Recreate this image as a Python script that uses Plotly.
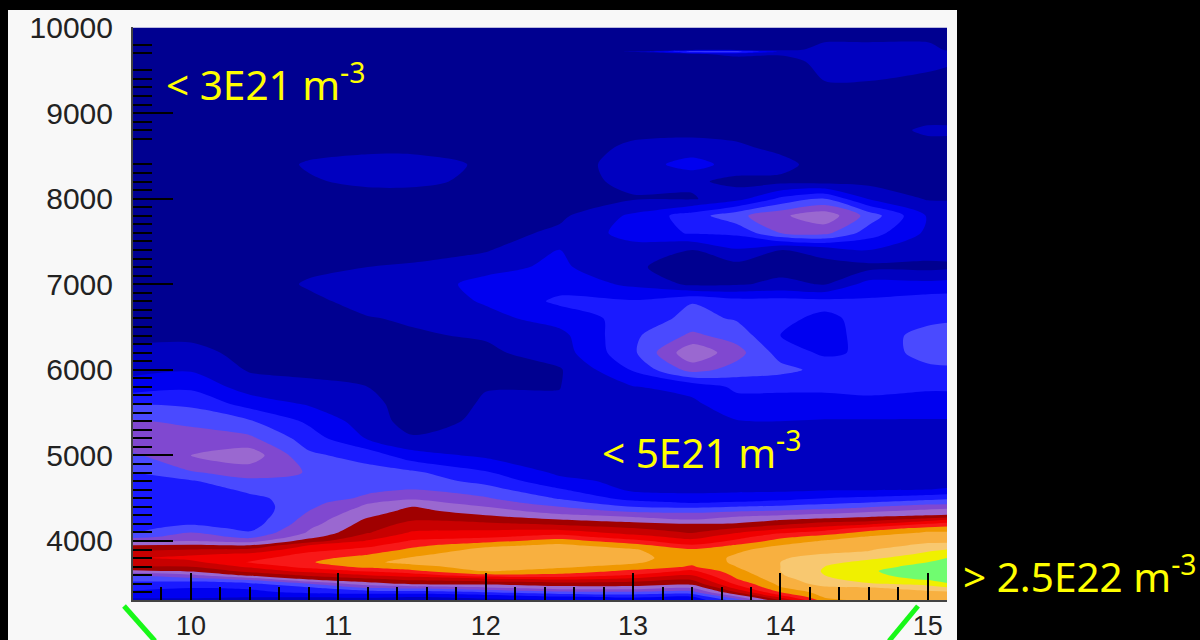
import plotly.graph_objects as go

# Axis positions of the grid (x in axis units, y in axis units)
x_vals = [9.607, 10.0, 10.4, 10.8, 11.2, 11.5, 12.0, 12.5, 13.0, 13.4, 13.7, 14.0, 14.3, 14.6, 15.0, 15.13]
y_a = [3310, 3350, 3400, 3450, 3500, 3550, 3600, 3650, 3700, 3750, 3800, 3850, 3900, 3950]
y_b = [4000, 4050, 4100, 4150, 4200, 4250, 4300, 4350, 4400, 4450, 4500, 4600, 4700, 4800]
y_c = [5000, 5200, 5400, 5600, 5800, 6000, 6200, 6400, 6600, 6800, 7000, 7200, 7400, 7600]
y_d = [7800, 8000, 8200, 8400, 8600, 8800, 9000, 9300, 9600, 9690, 9717, 9740, 9800, 10000]

# Band index, one list per x position
c00 = [1.8,2.2,2.8,3.3,3.7,4.3,5.0,6.8,8.0,8.6,8.9,8.4,7.8,7.0,
       5.8,4.6,3.9,3.7,3.4,3.3,3.3,3.2,3.2,3.2,3.2,3.2,3.5,4.0,
       4.8,6.1,5.1,4.0,2.5,1.7,1.2,0.8,0.6,0.5,0.5,0.5,0.5,0.5,
       .5,.5,.5,.5,.5,.5,.5,.5,.5,.5,.5,.5,.5,.4]
c01 = [1.5,2.5,2.8,3.0,3.5,4.5,5.8,7.2,8.0,8.7,9.3,8.8,8.0,7.1,
       6.0,5.5,5.0,4.4,3.9,3.6,3.5,3.5,3.4,3.4,3.4,3.5,3.9,4.9,
       6.0,5.4,4.8,3.8,2.8,1.9,1.3,.8,.6,.5,.5,.5,.5,.5,
       .5,.5,.5,.5,.5,.5,.5,.5,.5,.5,.5,.5,.5,.4]
c02 = [1.3,2.2,2.8,3.1,3.8,5.2,7.3,8.3,9.2,10.1,9.6,9.1,8.2,7.0,
       5.6,4.7,4.1,3.7,3.5,3.4,3.3,3.3,3.4,3.6,3.8,4.2,4.8,5.4,
       6.6,5.2,4.1,2.6,1.5,.9,.7,.6,.6,.5,.5,.5,.5,.5,
       .5,.5,.5,.5,.5,.5,.5,.5,.5,.5,.5,.5,.5,.4]
c03 = [1.2,2.2,3.2,3.8,5.0,7.0,8.2,9.4,10.4,10.9,10.7,10.2,9.6,9.0,
       7.5,6.6,6.1,5.9,5.6,5.4,5.2,5.0,4.8,4.6,4.4,4.3,4.5,4.95,
       4.2,3.5,2.8,1.9,1.2,.8,.7,.6,.6,.8,1.1,.8,.5,.45,
       .4,.5,.9,1.1,.7,.45,.4,.4,.4,.4,.4,.4,.4,.4]
c04 = [1.5,2.3,3.4,5.0,6.6,7.7,9.0,10.2,11.3,11.8,11.4,10.9,10.3,9.7,
       9.1,8.5,7.9,7.6,7.4,7.15,6.8,6.5,6.2,5.9,5.2,4.8,4.6,4.4,
       3.6,1.9,1.5,1.2,1.0,.8,.7,.7,.95,1.3,1.5,1.0,.7,.5,
       .4,.6,1.2,1.3,.8,.45,.4,.4,.4,.4,.4,.4,.4,.4]
c05 = [1.2,2.1,3.5,5.2,7.2,8.2,9.5,10.8,11.7,12.3,12.1,11.7,11.2,10.7,
       10.1,9.6,9.1,8.7,8.3,7.9,7.6,7.3,7.0,6.4,5.8,5.0,4.5,4.2,
       2.4,1.1,.6,.7,.7,.7,.7,.9,1.1,1.4,1.5,1.1,.7,.5,
       .45,.6,1.2,1.3,.8,.4,.4,.4,.4,.4,.4,.4,.4,.4]
c06 = [1.7,2.4,4.0,5.8,7.3,8.6,10.7,12.1,12.4,12.6,12.7,12.6,12.3,11.7,
       10.6,9.8,9.3,8.7,8.2,7.6,7.0,6.5,6.0,5.5,5.1,4.4,3.7,3.1,
       1.8,1.3,1.2,1.05,.98,.7,.8,1.1,1.7,2.1,2.3,1.7,.9,.6,
       .45,.5,.8,.9,.5,.4,.4,.4,.4,.4,.4,.4,.4,.4]
c07 = [2.0,3.0,4.6,6.5,7.6,9.0,10.7,11.6,12.2,12.6,12.8,12.7,12.4,12.2,
       11.5,10.4,9.5,8.6,7.8,7.0,6.2,5.5,5.0,4.4,3.9,3.1,2.3,1.8,
       1.4,1.3,1.2,1.1,.98,.9,1.5,1.7,2.4,3.2,2.6,2.2,2.05,1.2,
       .8,.6,.5,.45,.4,.4,.4,.4,.4,.4,.4,.4,.4,.4]
c08 = [2.5,3.2,4.8,6.5,7.5,8.6,9.9,10.8,11.6,12.2,12.4,12.3,12.1,11.4,
       10.3,9.4,8.6,8.0,7.3,6.5,5.7,4.8,4.0,3.3,2.6,1.8,1.7,1.7,
       1.6,1.5,1.6,1.8,1.95,3.1,3.8,3.8,3.4,3.1,1.8,1.1,1.6,2.4,
       2.2,.9,1.3,1.5,1.2,.7,.5,.5,.5,.5,1.1,.5,.5,.4]
c09 = [2.3,3.0,4.6,6.0,7.3,8.1,9.0,9.8,10.9,11.2,11.3,11.2,11.1,10.1,
       9.3,8.6,7.9,7.4,7.0,6.0,5.4,4.7,3.8,2.9,2.4,1.7,1.5,1.5,
       1.4,1.4,1.5,1.8,2.3,5.4,6.8,5.2,4.3,3.95,.8,.7,.95,3.1,
       3.5,.9,1.2,2.4,1.4,.7,.5,.5,.6,.9,4.3,.7,.5,.4]
c10 = [4.5,6.0,8.0,9.3,10.2,10.9,11.3,11.7,12.0,12.2,12.2,12.0,11.8,11.1,
       10.2,9.6,8.9,8.0,7.1,6.4,5.8,4.9,4.0,3.1,2.4,1.8,1.6,1.5,
       1.5,1.6,1.95,2.6,3.2,4.6,5.4,4.6,3.9,3.4,.9,.6,1.9,3.2,
       4.7,1.6,.7,1.6,1.2,.6,.5,.5,.6,1.2,4.3,.7,.5,.4]
c11 = [8.0,9.5,11.0,11.9,12.3,12.6,12.9,13.0,13.0,13.0,12.9,12.7,12.4,12.0,
       11.4,10.7,9.8,8.7,7.7,6.9,6.0,5.1,4.2,3.4,2.6,1.8,1.5,1.5,
       1.4,1.4,2.0,2.6,3.2,4.3,3.6,3.0,3.2,3.4,1.2,.7,.95,5.0,
       5.8,3.2,.7,1.4,.7,.5,.5,.5,.6,1.1,1.8,.7,.5,.4]
c12 = [11.6,12.2,12.5,12.8,13.4,13.7,14.0,14.1,14.0,13.7,13.4,13.0,12.8,12.4,
       12.1,11.4,10.4,9.4,8.4,7.3,6.3,5.4,4.5,3.7,3.0,1.9,1.5,1.5,
       1.3,1.4,1.9,2.8,3.1,3.7,2.8,2.6,2.8,3.3,.95,.6,1.4,5.3,
       6.7,4.0,.6,.45,.45,.45,.45,.9,1.3,1.2,1.3,1.3,1.1,.4]
c13 = [12.4,12.6,12.8,12.9,13.9,14.5,14.8,14.9,14.7,14.3,13.8,13.2,12.9,12.6,
       12.3,12.1,11.3,10.3,8.8,7.5,6.7,5.8,4.9,4.0,3.2,1.9,1.5,1.4,
       1.3,1.4,1.9,2.8,3.2,3.3,3.2,3.4,3.3,3.15,2.4,.7,2.0,3.5,
       4.6,1.9,.7,.5,.45,.45,.45,.9,1.3,1.2,1.3,1.3,1.1,.4]
c14 = [12.3,12.5,12.8,13.4,14.4,15.1,15.4,15.5,15.3,15.0,14.6,14.2,13.8,13.2,
       12.8,12.4,12.1,11.3,10.0,8.5,7.0,6.3,5.5,4.5,3.6,2.0,1.6,1.4,
       1.3,1.4,1.9,2.7,3.1,3.7,4.5,4.4,3.7,3.5,2.3,.7,1.5,1.8,
       1.9,.9,.6,.5,.6,1.2,.5,.7,1.2,1.2,1.2,1.2,1.1,.4]
c15 = [12.2,12.5,12.8,13.8,14.9,15.4,15.6,15.7,15.6,15.3,15.0,14.4,14.0,13.3,
       12.8,12.4,12.1,11.4,10.4,8.9,7.1,6.4,5.6,4.6,3.8,2.1,1.6,1.4,
       1.3,1.4,1.9,2.7,3.1,3.8,4.6,4.6,3.8,3.5,2.4,.8,1.4,1.7,
       1.7,.9,.6,.5,.6,1.2,.5,.6,1.1,1.1,1.1,.95,.8,.4]

band_colors = ["#000090", "#0000c0", "#0000f0", "#1a1aff", "#4a4aff", "#8048d0",
               "#9a68d0", "#a00000", "#c80000", "#f00000", "#f81818", "#f09800",
               "#f8b040", "#f8c870", "#f0f000", "#70fc70"]

x_tick_vals = [10, 11, 12, 13, 14, 15]
y_tick_vals = [4000, 5000, 6000, 7000, 8000, 9000, 10000]
y_minor_skipped = [9900, 9600, 8600, 8500]
y_minor_vals = [v for v in range(3400, 10000, 100) if v not in y_tick_vals and v not in y_minor_skipped]

notes = [("< 3E21 m<sup>-3</sup>", 164, 83),
         ("< 5E21 m<sup>-3</sup>", 600, 450),
         ("> 2.5E22 m<sup>-3</sup>", 961, 574)]

L, R, T, B = 133, 947, 27, 600


def px(v):
    return (v - L) / (R - L)


def py(v):
    return (B - v) / (B - T)


columns = [c00, c01, c02, c03, c04, c05, c06, c07, c08, c09, c10, c11, c12, c13, c14, c15]
y_vals = y_a + y_b + y_c + y_d
z = [list(row) for row in zip(*columns)]

n = len(band_colors)
scale = []
for i, col in enumerate(band_colors):
    scale.append([i / n, col])
    scale.append([(i + 1) / n, col])

fig = go.Figure(go.Contour(
    x=x_vals, y=y_vals, z=z,
    autocontour=False,
    contours=dict(start=1, end=15, size=1, coloring="fill", showlines=False),
    line=dict(width=0, smoothing=0.8),
    colorscale=scale, zmin=0, zmax=n, zauto=False,
    showscale=False, hoverinfo="skip",
))

shapes = [
    dict(type="rect", xref="paper", yref="paper", x0=px(8), x1=px(957), y0=py(640), y1=py(10),
         fillcolor="#f8f8f8", line=dict(width=0), layer="below"),
    dict(type="line", xref="paper", yref="paper", x0=px(124), y0=py(606), x1=px(155), y1=py(641),
         line=dict(color="#18f818", width=5), layer="above"),
    dict(type="line", xref="paper", yref="paper", x0=px(918), y0=py(606), x1=px(889), y1=py(641),
         line=dict(color="#18f818", width=5), layer="above"),
]

annotations = [
    dict(text=t, xref="paper", yref="paper", x=px(a), y=py(b), xanchor="left", yanchor="middle",
         showarrow=False, font=dict(family="Noto Sans", size=40.5, color="#ffff00"))
    for t, a, b in notes
]

fig.update_layout(
    width=1200, height=640,
    margin=dict(l=L, r=1200 - R, t=T, b=640 - B, pad=0),
    paper_bgcolor="#000000", plot_bgcolor="#000090",
    shapes=shapes, annotations=annotations, showlegend=False,
    xaxis=dict(
        range=[9.607, 15.13], tickmode="array", tickvals=x_tick_vals, ticks="inside",
        ticklen=27, tickwidth=2, tickcolor="#000000", showgrid=False, zeroline=False,
        showline=True, linecolor="#444444", linewidth=2, layer="above traces", automargin=False,
        tickfont=dict(family="Liberation Sans", size=27, color="#222222"),
        ticklabelstandoff=1,
        minor=dict(ticks="inside", dtick=0.2, ticklen=13, tickwidth=2, tickcolor="#000000", showgrid=False),
    ),
    yaxis=dict(
        range=[3310, 10006], tickmode="array", tickvals=y_tick_vals, ticks="inside", tickformat="d",
        ticklen=40, tickwidth=2, tickcolor="#000000", showgrid=False, zeroline=False,
        showline=True, linecolor="#444444", linewidth=2, layer="above traces", automargin=False,
        tickfont=dict(family="Liberation Sans", size=30, color="#222222"),
        ticklabelstandoff=12,
        minor=dict(ticks="inside", tickmode="array", tickvals=y_minor_vals, ticklen=19, tickwidth=2,
                   tickcolor="#000000", showgrid=False),
    ),
)

fig.write_html("out.html", config=dict(displayModeBar=False),
               post_script="document.body.style.margin='0';document.body.style.background='#000';")
